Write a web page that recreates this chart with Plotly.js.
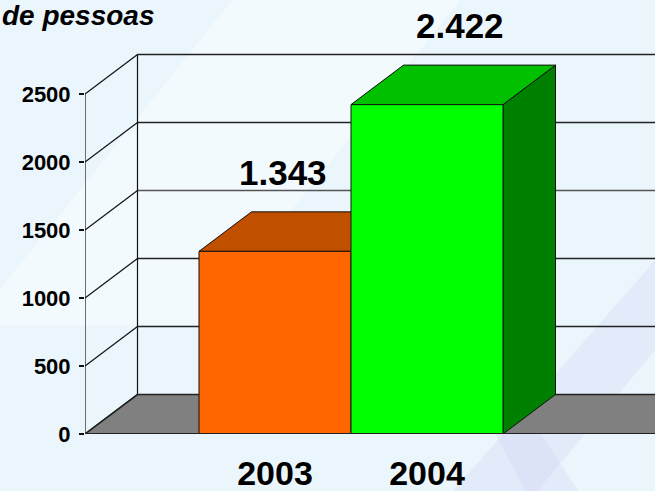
<!DOCTYPE html>
<html>
<head>
<meta charset="utf-8">
<script src="https://cdn.plot.ly/plotly-3.0.1.min.js"></script>
<style>html,body{margin:0;padding:0;background:#eaf6fb;}#chart{width:655px;height:491px;}</style>
</head>
<body>
<div id="chart"></div>
<script>
// ---- data ----
const categories = ['2003', '2004'];
const values = [1343, 2422];
const valueLabels = ['1.343', '2.422'];
const yTickValues = [0, 500, 1000, 1500, 2000, 2500];
const titleText = 'de pessoas';

// ---- styles ----
const frontColors = ['#FF6600', '#00FF00'];
const topColors = ['#C04F00', '#00C000'];
const sideColors = ['#9A3F00', '#008000'];
const labelShiftX = [8, 33];
const FONT = 'Arial, "Liberation Sans", sans-serif';

// ---- geometry (pixel layout -> data units) ----
const W = 655, H = 491, ML = 85, MR = 0, MT = 0, MB = 57;
const plotW = W - ML - MR, plotH = H - MT - MB;
const xRange = [-1.25, 2.5];
const yPerPx = 500 / 68;
const yRange = [0, plotH * yPerPx];
const xPerPx = (xRange[1] - xRange[0]) / plotW;
const DX = 52.5 * xPerPx;      // depth offset in x units
const DY = 39.5 * yPerPx;      // depth offset in y units
const xL = xRange[0];           // front-left corner of floor
const xR = categories.length - 0.5 + 1.25; // front-right corner of floor
const yTop = yTickValues[yTickValues.length - 1];

const traces = [];
function poly(xs, ys, fill, line, lw) {
  traces.push({
    type: 'scatter', mode: 'lines', x: xs, y: ys,
    fill: fill ? 'toself' : 'none', fillcolor: fill || undefined,
    line: {color: line, width: lw}, hoverinfo: 'skip', showlegend: false
  });
}

// side wall diagonals
yTickValues.forEach(v => poly([xL, xL + DX], [v, v + DY], null, '#111', 1.2));
// back wall gridlines
yTickValues.forEach(v => { if (v > 0) poly([xL + DX, xRange[1] + 1], [v + DY, v + DY], null, v === 1500 ? '#555' : '#222', 1.4); });
// back wall left edge
poly([xL + DX, xL + DX], [DY, yTop + DY], null, '#111', 1.2);
// front value axis line
poly([xL, xL], [0, yTop], null, '#111', 1.2);
// floor
poly([xL, xR, xR + DX, xL + DX, xL], [0, 0, DY, DY, 0], '#808080', '#222', 1.6);

// bars
values.forEach((v, i) => {
  const a = i - 0.5, b = i + 0.5;
  poly([b, b + DX, b + DX, b, b], [0, DY, v + DY, v, 0], sideColors[i], '#111', 1);
  poly([a, b, b + DX, a + DX, a], [v, v, v + DY, v + DY, v], topColors[i], '#111', 1);
  poly([a, b, b, a, a], [0, 0, v, v, 0], frontColors[i], '#111', 1);
});
// floor front edge on top
poly([xL, xR], [0, 0], null, '#222', 1.8);

const annotations = values.map((v, i) => ({
  x: i, y: v, xref: 'x', yref: 'y', text: '<b>' + valueLabels[i] + '</b>',
  showarrow: false, xanchor: 'center', yanchor: 'middle',
  xshift: labelShiftX[i], yshift: 79,
  font: {family: FONT, size: 35, color: '#000'}
}));

const shapes = [
  {type: 'path', xref: 'paper', yref: 'paper', layer: 'below',
   path: 'M -0.2 0.25 L 0.2 0.25 L 0.75 1.15 L 0.35 1.15 Z',
   fillcolor: 'rgba(255,255,255,0.45)', line: {width: 0}},
  {type: 'path', xref: 'paper', yref: 'paper', layer: 'below',
   path: 'M 0.6 -0.2 L 0.75 -0.2 L 1.1 0.35 L 1.1 0.55 Z',
   fillcolor: 'rgba(205,205,245,0.25)', line: {width: 0}},
  {type: 'path', xref: 'paper', yref: 'paper', layer: 'below',
   path: 'M 0.8 -0.2 L 0.9 -0.2 L 0.75 0.1 L 0.7 0.05 Z',
   fillcolor: 'rgba(205,205,245,0.25)', line: {width: 0}}
];

const layout = {
  width: W, height: H,
  margin: {l: ML, r: MR, t: MT, b: MB, pad: 0},
  paper_bgcolor: '#eaf6fb', plot_bgcolor: 'rgba(0,0,0,0)',
  showlegend: false,
  title: {text: '<b><i>' + titleText + '</i></b>', xref: 'container', yref: 'container',
          x: 0.003, xanchor: 'left', y: 0.99, yanchor: 'top', pad: {t: 0, l: 0},
          font: {family: FONT, size: 28, color: '#000'}},
  xaxis: {range: xRange, showgrid: false, zeroline: false, showline: false,
          tickmode: 'array', tickvals: categories.map((c, i) => i), ticktext: categories,
          ticks: '', ticklabelstandoff: 16,
          tickfont: {family: FONT, size: 34, color: '#000', weight: 'bold'}, fixedrange: true},
  yaxis: {range: yRange, showgrid: false, zeroline: false, showline: false,
          tickmode: 'array', tickvals: yTickValues, ticktext: yTickValues.map(String),
          ticks: 'outside', ticklen: 5, tickcolor: '#111', tickwidth: 1.2,
          ticklabelstandoff: 4,
          tickfont: {family: FONT, size: 22, color: '#000', weight: 'bold'}, fixedrange: true},
  annotations: annotations,
  shapes: shapes
};

Plotly.newPlot('chart', traces, layout, {staticPlot: true, displayModeBar: false});
</script>
</body>
</html>
